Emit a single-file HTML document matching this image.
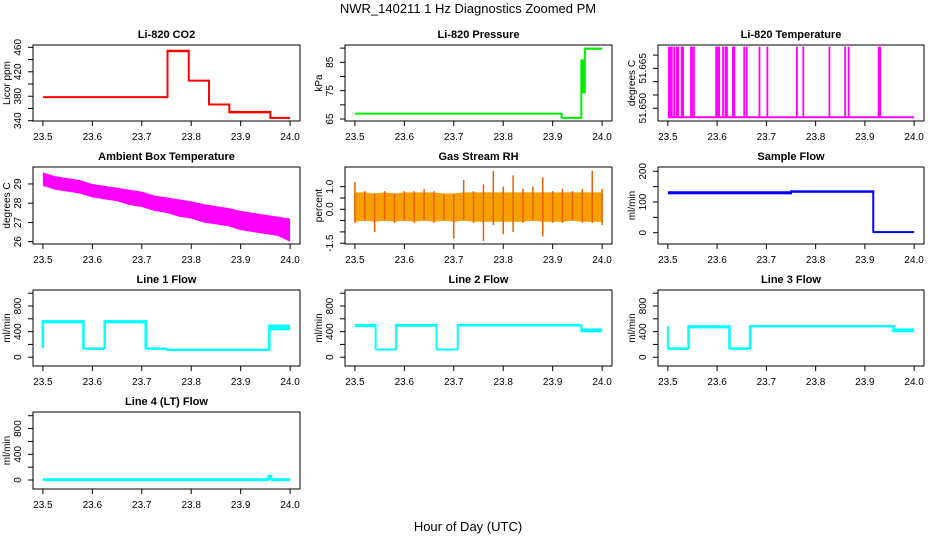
<!DOCTYPE html>
<html><head><meta charset="utf-8"><style>
html,body{margin:0;padding:0;background:#fff;}
svg{display:block;font-family:"Liberation Sans",sans-serif;}
</style></head><body>
<svg id="c" width="936" height="540" viewBox="0 0 936 540">
<text x="468" y="13" text-anchor="middle" font-size="13">NWR_140211  1 Hz Diagnostics Zoomed PM</text>
<text x="468" y="531" text-anchor="middle" font-size="13">Hour of Day (UTC)</text>
</svg>
<script>
// ---- data ----
const xTicks = [23.5, 23.6, 23.7, 23.8, 23.9, 24.0];
const xTickLabels = ["23.5", "23.6", "23.7", "23.8", "23.9", "24.0"];
// step segments: start, end, lo, hi
const co2Start = [23.5, 23.752, 23.795, 23.836, 23.877, 23.960];
const co2End   = [23.752, 23.795, 23.836, 23.877, 23.960, 24.0];
const co2Lo    = [377, 452, 404, 365, 352, 343];
const co2Hi    = [380, 456, 407, 368, 356, 346];
const presStart = [23.5, 23.918, 23.958, 23.965];
const presEnd   = [23.918, 23.958, 23.965, 24.0];
const presLo    = [66.6, 65.2, 74, 89.4];
const presHi    = [67.2, 65.6, 86, 90.2];
const tempBase = 51.6466;
const tempTop = 51.6732;
const tempSpikes = [23.502, 23.505, 23.508, 23.513, 23.518, 23.521, 23.528, 23.531, 23.547, 23.549, 23.553, 23.598, 23.601, 23.604, 23.612, 23.617, 23.620, 23.632, 23.635, 23.655, 23.660, 23.686, 23.702, 23.762, 23.775, 23.828, 23.860, 23.867, 23.928, 23.931];
const ambT  = [23.5, 23.525, 23.55, 23.575, 23.6, 23.625, 23.65, 23.675, 23.7, 23.725, 23.75, 23.775, 23.8, 23.825, 23.85, 23.875, 23.9, 23.925, 23.95, 23.975, 24.0];
const ambHi = [29.6, 29.4, 29.3, 29.2, 29.0, 28.9, 28.8, 28.7, 28.6, 28.4, 28.3, 28.2, 28.1, 27.95, 27.85, 27.75, 27.6, 27.5, 27.4, 27.3, 27.2];
const ambLo = [28.9, 28.7, 28.6, 28.5, 28.3, 28.2, 28.1, 27.9, 27.8, 27.6, 27.5, 27.3, 27.2, 27.0, 26.9, 26.8, 26.6, 26.5, 26.4, 26.3, 26.0];
const rhT  = [23.5, 23.52, 23.54, 23.56, 23.58, 23.6, 23.62, 23.64, 23.66, 23.68, 23.70, 23.72, 23.74, 23.76, 23.78, 23.80, 23.82, 23.84, 23.86, 23.88, 23.90, 23.92, 23.94, 23.96, 23.98, 24.0];
const rhHi = [1.2, 0.8, 0.7, 0.8, 0.7, 0.8, 0.8, 0.9, 0.8, 0.7, 0.7, 1.3, 0.8, 1.1, 1.7, 1.0, 1.5, 0.9, 1.0, 1.4, 0.8, 0.9, 0.8, 0.9, 1.7, 0.9];
const rhLo = [-0.6, -0.5, -1.0, -0.5, -0.6, -0.5, -0.6, -0.5, -0.6, -0.5, -1.3, -0.5, -0.6, -1.4, -0.7, -1.1, -1.0, -0.6, -0.5, -1.2, -0.6, -0.6, -0.5, -0.6, -0.6, -0.7];
const sfStart = [23.5, 23.75, 23.917];
const sfEnd   = [23.75, 23.917, 24.0];
const sfLo    = [125, 130, 0];
const sfHi    = [135, 138, 4];
const l1Start = [23.5, 23.582, 23.625, 23.708, 23.75, 23.958];
const l1End   = [23.582, 23.625, 23.708, 23.75, 23.958, 24.0];
const l1Lo    = [530, 128, 530, 128, 110, 420];
const l1Hi    = [580, 140, 580, 140, 120, 510];
const l2Start = [23.5, 23.542, 23.583, 23.665, 23.708, 23.958];
const l2End   = [23.542, 23.583, 23.665, 23.708, 23.958, 24.0];
const l2Lo    = [470, 118, 475, 118, 480, 390];
const l2Hi    = [520, 125, 520, 125, 520, 450];
const l3Start = [23.5, 23.542, 23.625, 23.667, 23.958];
const l3End   = [23.542, 23.625, 23.667, 23.958, 24.0];
const l3Lo    = [128, 450, 128, 470, 390];
const l3Hi    = [140, 500, 140, 500, 450];
const l4Start = [23.5, 23.957, 23.961];
const l4End   = [23.957, 23.961, 24.0];
const l4Lo    = [0, 0, 0];
const l4Hi    = [10, 80, 10];

// ---- layout ----
const NS = "http://www.w3.org/2000/svg";
const svg = document.getElementById('c');
const colX = [[33, 300], [345, 612], [658, 924]];
const rowY = [[45, 121], [167, 244], [290, 366], [412, 489]];
function mk(tag, attrs, parent) {
  const e = document.createElementNS(NS, tag);
  for (const k in attrs) e.setAttribute(k, attrs[k]);
  (parent || svg).appendChild(e);
  return e;
}
function panel(col, row, name, title, ytitle, yMin, yMax, yTicks, yLabels) {
  const [x0, x1] = colX[col], [y0, y1] = rowY[row];
  const g = mk('g', {});
  
  
  const sx = v => x0 + (v - 23.48) / 0.54 * (x1 - x0);
  const sy = v => y1 - (v - yMin) / (yMax - yMin) * (y1 - y0);
  const t = mk('text', {x: (x0 + x1) / 2, y: y0 - 7, 'text-anchor': 'middle', 'font-size': 11, 'font-weight': 'bold'}, g);
  t.textContent = title;
  
  
  const box = mk('rect', {x: x0, y: y0, width: x1 - x0, height: y1 - y0, fill: 'none', stroke: '#000', 'stroke-width': 1}, g);
  
  
  const xa = mk('g', {}, g);
  
  
  mk('line', {x1: sx(xTicks[0]), x2: sx(xTicks[xTicks.length - 1]), y1: y1, y2: y1, stroke: '#000'}, xa);
  xTicks.forEach((v, i) => {
    mk('line', {x1: sx(v), x2: sx(v), y1: y1, y2: y1 + 5, stroke: '#000'}, xa);
    const l = mk('text', {x: sx(v), y: y1 + 19, 'text-anchor': 'middle', 'font-size': 10}, xa);
    l.textContent = xTickLabels[i];
  });
  const ya = mk('g', {}, g);
  
  
  mk('line', {x1: x0, x2: x0, y1: sy(yTicks[0]), y2: sy(yTicks[yTicks.length - 1]), stroke: '#000'}, ya);
  yTicks.forEach(v => mk('line', {x1: x0 - 5, x2: x0, y1: sy(v), y2: sy(v), stroke: '#000'}, ya));
  yLabels.forEach(v => {
    const yy = sy(parseFloat(v));
    const l = mk('text', {x: x0 - 12, y: yy, 'text-anchor': 'middle', 'font-size': 10, transform: `rotate(-90 ${x0 - 12} ${yy})`}, ya);
    l.textContent = v;
  });
  const ym = (y0 + y1) / 2, xt = x0 - 23;
  const yt = mk('text', {x: xt, y: ym, 'text-anchor': 'middle', 'font-size': 10, transform: `rotate(-90 ${xt} ${ym})`}, g);
  yt.textContent = ytitle;
  
  
  const d = mk('g', {}, g);
  
  
  return {sx, sy, g: d};
}
function steps(p, st, en, lo, hi, color, w) {
  let prev = null;
  for (let i = 0; i < st.length; i++) {
    const xa = p.sx(st[i]), xb = p.sx(en[i]);
    const ya = p.sy(hi[i]), yb = p.sy(lo[i]);
    const h = Math.max(yb - ya, w);
    const r = mk('rect', {x: xa, y: (ya + yb) / 2 - h / 2, width: Math.max(xb - xa, 1), height: h, fill: color}, p.g);
    
    
    if (prev) {
      const top = Math.min(prev[0], ya), bot = Math.max(prev[1], yb);
      mk('line', {x1: xa, x2: xa, y1: top, y2: bot, stroke: color, 'stroke-width': w}, p.g);
    }
    prev = [ya, yb];
  }
}
const lineTicks = [0, 200, 400, 600, 800, 1000], lineLabels = ["0", "400", "800"];

let p = panel(0, 0, 'co2', 'Li-820 CO2', 'Licor ppm', 339.5, 463.8, [340, 360, 380, 400, 420, 440, 460], ["340", "380", "420", "460"]);
steps(p, co2Start, co2End, co2Lo, co2Hi, '#ff0000', 2);

p = panel(1, 0, 'pressure', 'Li-820 Pressure', 'kPa', 64.3, 91.1, [65, 70, 75, 80, 85, 90], ["65", "75", "85"]);
steps(p, presStart, presEnd, presLo, presHi, '#00ee00', 2);

p = panel(2, 0, 'temperature', 'Li-820 Temperature', 'degrees C', 51.6452, 51.6738, [51.650, 51.655, 51.660, 51.665, 51.670], ["51.650", "51.665"]);
{
  const base = mk('line', {x1: p.sx(23.5), x2: p.sx(24.0), y1: p.sy(tempBase), y2: p.sy(tempBase), stroke: '#ff00ff', 'stroke-width': 2}, p.g);
  
  
  tempSpikes.forEach(t => {
    const s = mk('line', {x1: p.sx(t), x2: p.sx(t), y1: p.sy(tempBase), y2: p.sy(tempTop), stroke: '#ff00ff', 'stroke-width': 1.8}, p.g);
    
    
  });
}

p = panel(0, 1, 'ambient-temp', 'Ambient Box Temperature', 'degrees C', 25.88, 29.88, [26, 27, 28, 29], ["26", "27", "28", "29"]);
{
  let pts = ambT.map((t, i) => p.sx(t) + ',' + p.sy(ambHi[i]));
  pts = pts.concat(ambT.map((t, i) => p.sx(t) + ',' + p.sy(ambLo[i])).reverse());
  const poly = mk('polygon', {points: pts.join(' '), fill: '#ff00ff'}, p.g);
  
  
}

p = panel(1, 1, 'gas-rh', 'Gas Stream RH', 'percent', -1.535, 1.87, [-1.5, -1.0, -0.5, 0.0, 0.5, 1.0], ["-1.5", "0.0", "1.0"]);
{
  let pts = rhT.map((t, i) => p.sx(t) + ',' + p.sy(Math.min(rhHi[i], 0.75)));
  pts = pts.concat(rhT.map((t, i) => p.sx(t) + ',' + p.sy(Math.max(rhLo[i], -0.55))).reverse());
  const poly = mk('polygon', {points: pts.join(' '), fill: '#f5a000'}, p.g);
  
  
  rhT.forEach((t, i) => {
    const s = mk('line', {x1: p.sx(t), x2: p.sx(t), y1: p.sy(rhHi[i]), y2: p.sy(rhLo[i]), stroke: '#e86000', 'stroke-width': 1.5}, p.g);
    
    
  });
}

p = panel(2, 1, 'sample-flow', 'Sample Flow', 'ml/min', -36.8, 214, [0, 50, 100, 150, 200], ["0", "100", "200"]);
steps(p, sfStart, sfEnd, sfLo, sfHi, '#0000ff', 2);

p = panel(0, 2, 'line1-flow', 'Line 1 Flow', 'ml/min', -137, 1050, lineTicks, lineLabels);
steps(p, l1Start, l1End, l1Lo, l1Hi, '#00ffff', 2.5);
mk('line', {x1: p.sx(23.5), x2: p.sx(23.5), y1: p.sy(580), y2: p.sy(140), stroke: '#00ffff', 'stroke-width': 2.5}, p.g);

p = panel(1, 2, 'line2-flow', 'Line 2 Flow', 'ml/min', -137, 1050, lineTicks, lineLabels);
steps(p, l2Start, l2End, l2Lo, l2Hi, '#00ffff', 2);

p = panel(2, 2, 'line3-flow', 'Line 3 Flow', 'ml/min', -137, 1050, lineTicks, lineLabels);
steps(p, l3Start, l3End, l3Lo, l3Hi, '#00ffff', 2.5);
mk('line', {x1: p.sx(23.5), x2: p.sx(23.5), y1: p.sy(490), y2: p.sy(140), stroke: '#00ffff', 'stroke-width': 2}, p.g);

p = panel(0, 3, 'line4-flow', 'Line 4 (LT) Flow', 'ml/min', -140, 1058, lineTicks, lineLabels);
steps(p, l4Start, l4End, l4Lo, l4Hi, '#00ffff', 3);
</script>
</body></html>
